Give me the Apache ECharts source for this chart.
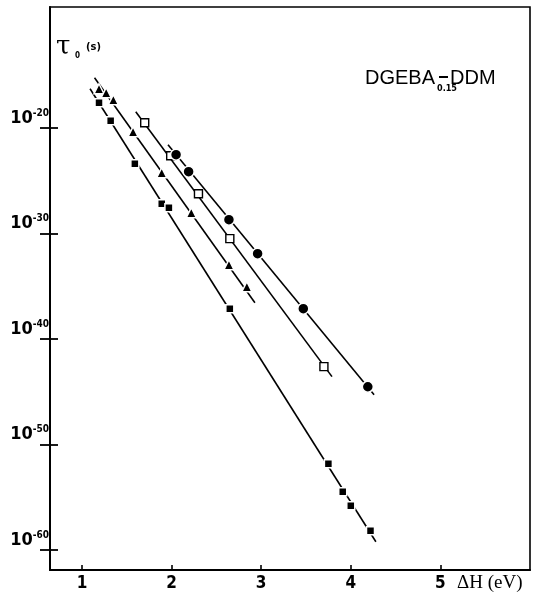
<!DOCTYPE html>
<html>
<head>
<meta charset="utf-8">
<script src="https://cdn.jsdelivr.net/npm/echarts@6/dist/echarts.min.js"></script>
<style>html,body{margin:0;padding:0;background:#fff}#c{width:536px;height:600px}</style>
</head>
<body>
<div id="c"></div>
<script>
// ΔH (eV) and log10(τ0 / s)
const squareX = [1.19, 1.32, 1.59, 1.89, 1.97, 2.65, 3.75, 3.91, 4.00, 4.22];
const squareY = [-17.60, -19.31, -23.38, -27.17, -27.55, -37.13, -51.82, -54.48, -55.80, -58.17];
const triangleX = [1.19, 1.27, 1.35, 1.57, 1.89, 2.22, 2.64, 2.84];
const triangleY = [-16.28, -16.65, -17.32, -20.35, -24.24, -28.03, -32.96, -35.04];
const openSquareX = [1.70, 1.99, 2.30, 2.65, 3.70];
const openSquareY = [-19.50, -22.63, -26.23, -30.49, -42.62];
const circleX = [2.05, 2.19, 2.64, 2.96, 3.47, 4.19];
const circleY = [-22.53, -24.14, -28.69, -31.91, -37.13, -44.53];
// drawn straight lines (start and end points as read)
const squareLine = [[1.09, -16.28], [4.28, -59.22]];
const triangleLine = [[1.14, -15.24], [2.93, -36.56]];
const openSquareLine = [[1.60, -18.46], [3.79, -43.57]];
const circleLine = [[1.96, -21.59], [4.26, -45.28]];
const xTicks = [1, 2, 3, 4, 5];
const yTicks = [-60, -50, -40, -30, -20];

const zip = (a, b) => a.map((v, i) => [v, b[i]]);
const FONT = '"DejaVu Sans Condensed", "Liberation Sans Narrow", "DejaVu Sans", sans-serif';

const chart = echarts.init(document.getElementById('c'));
const lineS = d => ({type: 'line', data: d, showSymbol: false, lineStyle: {color: '#000', width: 1.6}, z: 2, animation: false});
const scat = (d, sym, size, fill) => ({
  type: 'scatter', data: d, symbol: sym, symbolSize: size, z: 5, animation: false,
  itemStyle: {opacity: 1, color: fill, borderColor: fill === '#fff' ? '#000' : '#fff', borderWidth: fill === '#fff' ? 1.4 : 1.5}
});

chart.setOption({
  animation: false,
  grid: {left: 50, right: 6, top: 7, bottom: 30, show: true, borderColor: '#000', borderWidth: 1.6, backgroundColor: 'transparent'},
  xAxis: {
    type: 'value', min: 0.643, max: 6,
    axisLine: {lineStyle: {color: '#000', width: 2.2}},
    axisTick: {customValues: xTicks, inside: true, length: 5, lineStyle: {color: '#000', width: 1.6}},
    axisLabel: {customValues: xTicks, color: '#000', fontSize: 17, fontWeight: 'bold', fontFamily: FONT, margin: 5},
    splitLine: {show: false}
  },
  yAxis: [{
    type: 'value', min: -61.9, max: -8.53,
    axisLine: {lineStyle: {color: '#000', width: 2}},
    axisTick: {customValues: yTicks, length: 10, lineStyle: {color: '#000', width: 1.8}},
    axisLabel: {
      customValues: yTicks, margin: 1, verticalAlign: 'bottom',
      formatter: v => '{b|10}{s|' + v + '}',
      rich: {
        b: {fontSize: 18, fontWeight: 'bold', color: '#000', fontFamily: FONT, lineHeight: 20},
        s: {fontSize: 10, fontWeight: 'bold', color: '#000', fontFamily: FONT, verticalAlign: 'top', lineHeight: 20}
      }
    },
    splitLine: {show: false}
  }, {
    type: 'value', min: -61.9, max: -8.53, position: 'left',
    axisLine: {show: false},
    axisTick: {customValues: yTicks, inside: true, length: 8, lineStyle: {color: '#000', width: 1.8}},
    axisLabel: {show: false},
    splitLine: {show: false}
  }],
  series: [
    lineS(squareLine), lineS(triangleLine), lineS(openSquareLine), lineS(circleLine),
    scat(zip(squareX, squareY), 'rect', 8, '#000'),
    scat(zip(triangleX, triangleY), 'triangle', 10, '#000'),
    scat(zip(openSquareX, openSquareY), 'rect', 8, '#fff'),
    scat(zip(circleX, circleY), 'circle', 11, '#000')
  ],
  graphic: [
    {type: 'text', left: 56, top: 34, style: {text: 'τ', fontSize: 26, fontFamily: '"DejaVu Serif", serif', fill: '#000'}},
    {type: 'text', left: 75, top: 52, style: {text: '0', fontSize: 8, fontWeight: 'bold', fontFamily: FONT, fill: '#000'}},
    {type: 'text', left: 86, top: 42, style: {text: '(s)', fontSize: 11, fontWeight: 'bold', fontFamily: FONT, fill: '#000'}},
    {type: 'text', left: 365, top: 68, style: {text: 'DGEBA', fontSize: 20, fontFamily: '"Liberation Sans", Arial, sans-serif', fill: '#000'}},
    {type: 'rect', shape: {x: 439, y: 76, width: 9, height: 2}, style: {fill: '#000'}},
    {type: 'text', left: 437, top: 84, style: {text: '0.15', fontSize: 9, fontWeight: 'bold', fontFamily: FONT, fill: '#000'}},
    {type: 'text', left: 450, top: 68, style: {text: 'DDM', fontSize: 20, fontFamily: '"Liberation Sans", Arial, sans-serif', fill: '#000'}},
    {type: 'text', left: 457, top: 574, style: {text: 'ΔH (eV)', fontSize: 19, fontFamily: '"Liberation Serif", "DejaVu Serif", serif', fill: '#000'}}
  ]
});
</script>
</body>
</html>
